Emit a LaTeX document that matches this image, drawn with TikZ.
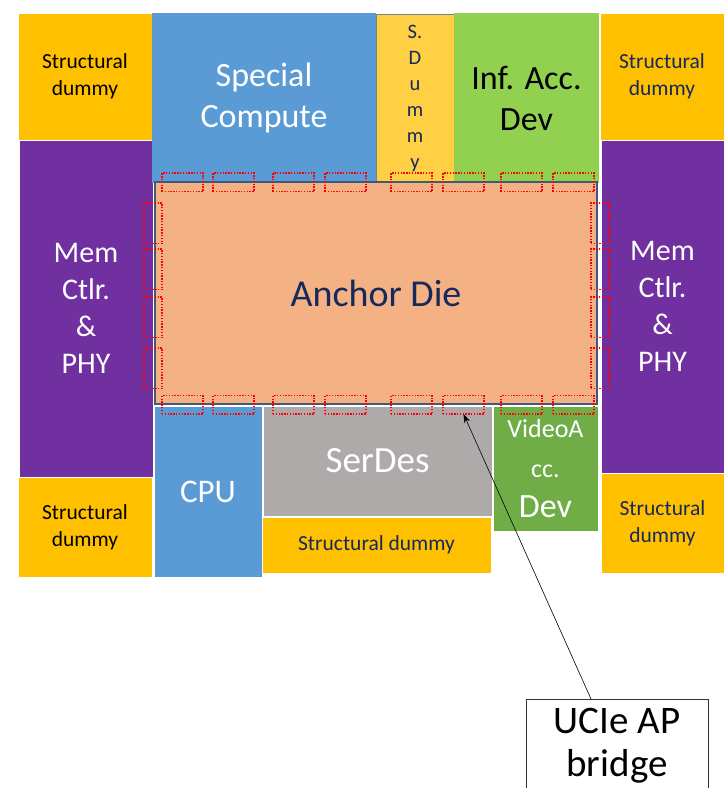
\documentclass[tikz,border=0pt]{standalone}
\usepackage{fontspec}
\setmainfont{Carlito}
\usetikzlibrary{arrows.meta}
\definecolor{dummyylw}{HTML}{FFC000}
\definecolor{memviolet}{HTML}{7030A0}
\definecolor{compblue}{HTML}{5B9BD5}
\definecolor{sdumylw}{HTML}{FFD043}
\definecolor{infgreen}{HTML}{92D050}
\definecolor{anchorfill}{HTML}{F4B183}
\definecolor{anchorline}{HTML}{42597C}
\definecolor{serdesgray}{HTML}{AEAAAA}
\definecolor{vidgreen}{HTML}{70AD47}
\definecolor{navytext}{HTML}{15295C}
\tikzset{
  blk/.style={anchor=north west, inner sep=0pt, outer sep=0pt, draw=white, line width=0.8pt, align=center},
  dummytxt/.style={font=\fontsize{21.5}{27}\selectfont},
  link/.style={anchor=north west, inner sep=0pt, outer sep=0pt, draw=red, line width=1.3pt,
               dash pattern=on 1.4pt off 1.4pt, minimum width=41pt, minimum height=18.5pt},
  vlink/.style={link, minimum width=18pt, minimum height=40.5pt},
  pointer/.style={-{Stealth[length=9pt,width=6pt]}, line width=0.6pt, black}
}
\begin{document}
\begin{tikzpicture}[x=1pt, y=-1pt]
\useasboundingbox (0,0) rectangle (724,788);
\fill[white] (0,0) rectangle (724,788);

% left column
\node[blk, fill=dummyylw, minimum width=134, minimum height=127, dummytxt, text=black] (sdTL) at (18,13) {Structural\\dummy};
\node[blk, fill=memviolet, minimum width=134, minimum height=337, text=white, font=\fontsize{30}{37}\selectfont] (memL) at (19,140) {Mem\\Ctlr.\\\&\\PHY};
\node[blk, fill=dummyylw, minimum width=134, minimum height=100, dummytxt, text=black] (sdBL) at (18,477) {Structural\\dummy};

% top row
\node[blk, fill=compblue, draw=none, minimum width=224, minimum height=170, text=white, font=\fontsize{34}{41}\selectfont] (spc) at (152,13) {Special\\Compute};
\node[blk, fill=sdumylw, draw=gray, line width=1pt, minimum width=78, minimum height=168, text=navytext, font=\fontsize{20.5}{26}\selectfont] (sdum) at (376,14) {S.\\D\\u\\m\\m\\y};
\node[blk, fill=infgreen, draw=none, minimum width=145, minimum height=170, text=black, font=\fontsize{34}{41}\selectfont] (inf) at (454,13) {Inf. Acc.\\Dev};

% right column
\node[blk, fill=dummyylw, minimum width=124, minimum height=127, dummytxt, text=navytext] (sdTR) at (600,13) {Structural\\dummy};
\node[blk, fill=memviolet, minimum width=123, minimum height=333, text=white, font=\fontsize{30}{37}\selectfont] (memR) at (601,140) {Mem\\Ctlr.\\\&\\PHY};
\node[blk, fill=dummyylw, minimum width=123, minimum height=100, dummytxt, text=navytext] (sdBR) at (601,473) {Structural\\dummy};

% anchor die
\node[blk, fill=anchorfill, draw=anchorline, line width=1.2pt, minimum width=442, minimum height=222, text=navytext, font=\fontsize{38}{45}\selectfont] (anchor) at (155,182) {Anchor Die};

% bottom row
\node[blk, fill=compblue, minimum width=108, minimum height=171, text=white, font=\fontsize{33}{40}\selectfont] (cpu) at (154,406) {CPU};
\node[blk, fill=serdesgray, minimum width=229, minimum height=110, text=white, font=\fontsize{37}{44}\selectfont] (serdes) at (263,406) {SerDes};
\node[blk, fill=dummyylw, minimum width=229, minimum height=56, dummytxt, text=navytext] (sdB) at (262,517) {Structural dummy};
\node[blk, fill=vidgreen, minimum width=105, minimum height=125, text=white, font=\fontsize{26}{40}\selectfont] (vid) at (493,406) {VideoA\\cc.\\{\fontsize{34}{40}\selectfont Dev}};

% UCIe links along the anchor die edges
\foreach \x [count=\i] in {162,213,273,325,391,443,501,553} {
  \node[link] (t\i) at (\x,173) {};
  \node[link] (b\i) at (\x,395.5) {};
}
\foreach \y [count=\i] in {203,249,297,348} {
  \node[vlink] (l\i) at (144,\y) {};
  \node[vlink] (r\i) at (591,\y) {};
}

% callout
\node[anchor=north west, draw=black!80, line width=1pt, fill=white, minimum width=182, minimum height=120,
      inner sep=0pt, outer sep=0pt] (bridge) at (526,699) {};
\node[align=center, font=\fontsize{39}{43}\selectfont, text=black] (bridgetxt) at (617,746) {UCIe AP\\bridge};
\draw[pointer] ([xshift=-26pt]bridge.north) -- (b6.south);
\end{tikzpicture}
\end{document}
